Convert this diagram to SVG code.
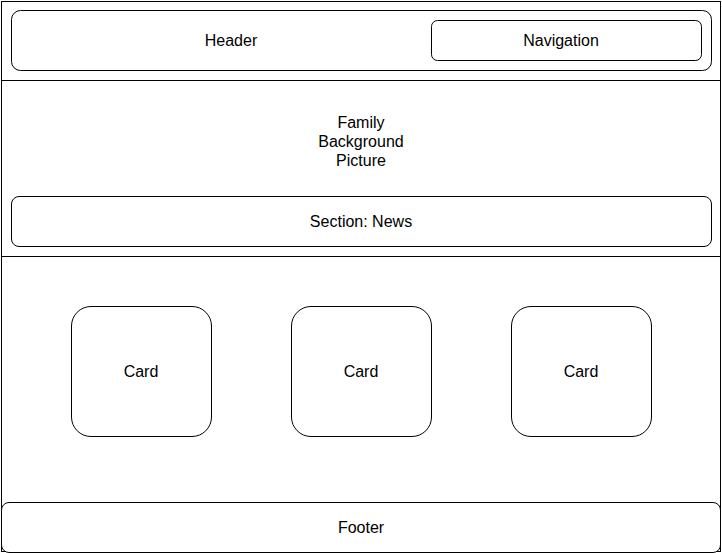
<svg xmlns="http://www.w3.org/2000/svg" width="722" height="553" viewBox="0 0 722 553">
<style>
.b{fill:#fff;stroke:#000;stroke-width:1}
.t{font-family:"Liberation Sans",Arial,sans-serif;font-size:16px;fill:#000;text-anchor:middle;dominant-baseline:central}
</style>
<rect width="722" height="553" fill="#fff"/>
<g id="header-band"><rect class="b" x="1.5" y="1.5" width="719" height="79"/></g>
<g id="hero-band"><rect class="b" x="1.5" y="80.5" width="719" height="176"/></g>
<g id="content-band"><rect class="b" x="1.5" y="256.5" width="719" height="295"/></g>
<g id="header"><rect class="b" x="11.5" y="10.5" width="700" height="60" rx="9"/><text class="t" x="231" y="40">Header</text></g>
<g id="navigation"><rect class="b" x="431.5" y="20.5" width="270" height="40" rx="6"/><text class="t" x="561" y="40">Navigation</text></g>
<g id="family"><text class="t" x="361" y="122">Family</text><text class="t" x="361" y="141">Background</text><text class="t" x="361" y="160">Picture</text></g>
<g id="section-news"><rect class="b" x="11.5" y="196.5" width="700" height="50" rx="7.5"/><text class="t" x="361" y="221">Section: News</text></g>
<g id="card1"><rect class="b" x="71.5" y="306.5" width="140" height="130" rx="19.5"/><text class="t" x="141" y="371">Card</text></g>
<g id="card2"><rect class="b" x="291.5" y="306.5" width="140" height="130" rx="19.5"/><text class="t" x="361" y="371">Card</text></g>
<g id="card3"><rect class="b" x="511.5" y="306.5" width="140" height="130" rx="19.5"/><text class="t" x="581" y="371">Card</text></g>
<g id="footer"><rect class="b" x="1.5" y="502.5" width="719" height="50" rx="7.5"/><text class="t" x="361" y="527">Footer</text></g>
<g id="connectors"/>
</svg>
